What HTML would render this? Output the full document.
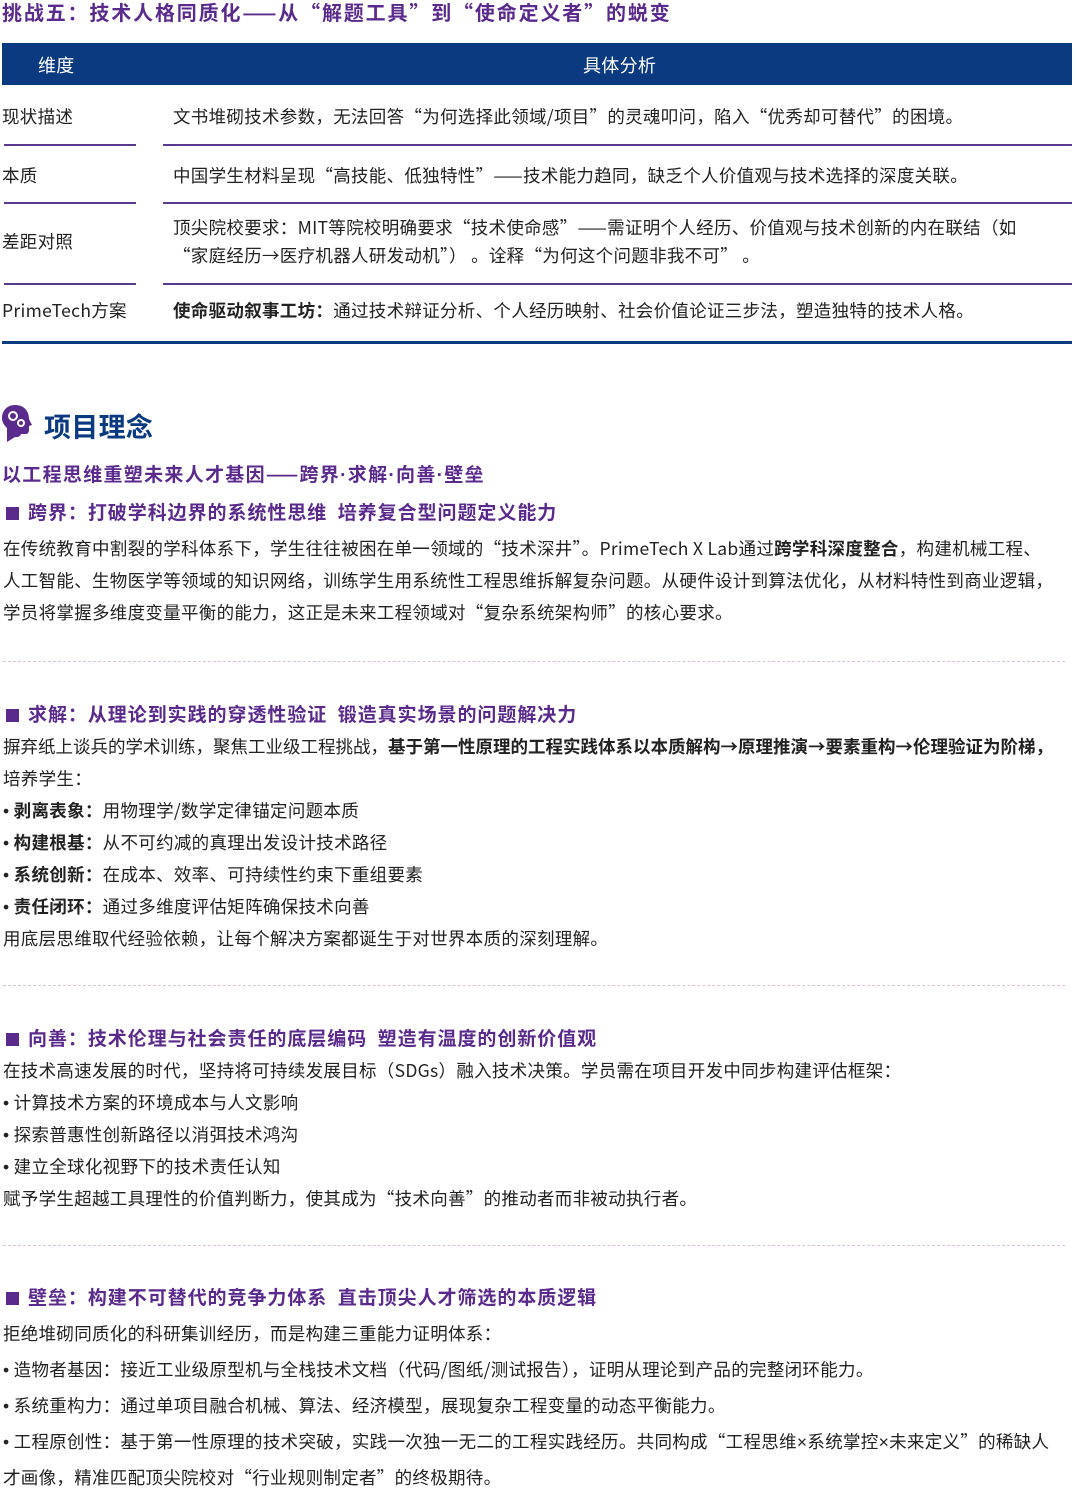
<!DOCTYPE html>
<html><head><meta charset="utf-8">
<style>
*{margin:0;padding:0;box-sizing:border-box}
body{width:1079px;height:1494px;background:#fff;position:relative;overflow:hidden;font-family:"Noto Sans CJK SC","Liberation Sans",sans-serif;color:#222;font-size:17.5px;letter-spacing:0.3px}
.a{position:absolute;white-space:nowrap;line-height:20px}
.h{font-size:19px;color:#5a2a8c;font-weight:bold;letter-spacing:0.95px}
.sq{display:inline-block;width:13px;height:13px;background:#5a2a8c;margin-right:9px;vertical-align:-1px}
.ln{position:absolute;height:2px;background:#5a3a8e}
.dash{position:absolute;left:3px;width:1062px;border-top:1.5px dashed #dcc0dc}
b{font-weight:bold}
i{font-style:normal;font-family:"Liberation Sans",sans-serif}
</style></head><body>
<div class="a h" style="left:2px;top:2px;font-size:20px;letter-spacing:1.85px">挑战五：技术人格同质化——从“解题工具”到“使命定义者”的蜕变</div>
<div style="position:absolute;left:2px;top:43px;width:1070px;height:42px;background:#0b3a80"></div>
<div class="a" style="left:38px;top:55px;color:#fff;font-size:18px">维度</div>
<div class="a" style="left:583px;top:55px;color:#fff;font-size:18px">具体分析</div>

<div class="a" style="left:2px;top:107px">现状描述</div>
<div class="a" style="left:173px;top:107px">文书堆砌技术参数，无法回答“为何选择此领域/项目”的灵魂叩问，陷入“优秀却可替代”的困境。</div>
<div class="ln" style="left:4px;width:132px;top:144px"></div><div class="ln" style="left:163px;width:909px;top:144px"></div>
<div class="a" style="left:2px;top:166px">本质</div>
<div class="a" style="left:173px;top:166px">中国学生材料呈现“高技能、低独特性”——技术能力趋同，缺乏个人价值观与技术选择的深度关联。</div>
<div class="ln" style="left:4px;width:132px;top:202px"></div><div class="ln" style="left:163px;width:909px;top:202px"></div>
<div class="a" style="left:2px;top:232px">差距对照</div>
<div class="a" style="left:173px;top:218px">顶尖院校要求：MIT等院校明确要求“技术使命感”——需证明个人经历、价值观与技术创新的内在联结（如</div>
<div class="a" style="left:173px;top:246px">“家庭经历→医疗机器人研发动机”）&nbsp;。诠释“为何这个问题非我不可”&nbsp;。</div>
<div class="ln" style="left:4px;width:132px;top:283px"></div><div class="ln" style="left:163px;width:909px;top:283px"></div>
<div class="a" style="left:2px;top:301px">PrimeTech方案</div>
<div class="a" style="left:173px;top:301px"><b>使命驱动叙事工坊：</b>通过技术辩证分析、个人经历映射、社会价值论证三步法，塑造独特的技术人格。</div>
<div style="position:absolute;left:2px;top:341px;width:1070px;height:3px;background:#0b3a80"></div>

<svg style="position:absolute;left:1px;top:404px" width="32" height="40" viewBox="0 0 32 40"><path d="M14 1C6 1 1 7 1 14c0 5 3 8 5 10v14l8-5c3 0 5 0 6-3h5c2 0 3-2 3-4v-4l3-1-3-6C28 6 22 1 14 1z" fill="#5a2a8c"/><circle cx="12" cy="12" r="4" fill="none" stroke="#fff" stroke-width="2"/><circle cx="20" cy="19" r="3" fill="none" stroke="#fff" stroke-width="2"/></svg>
<div class="a" style="left:44px;top:410px;font-size:27px;line-height:32px;color:#0b3a80;font-weight:bold">项目理念</div>
<div class="a h" style="left:2px;top:464px;letter-spacing:1.3px">以工程思维重塑未来人才基因——跨界<i>·</i>求解<i>·</i>向善<i>·</i>壁垒</div>

<div class="a h" style="left:6px;top:502px"><span class="sq"></span>跨界：打破学科边界的系统性思维&nbsp; 培养复合型问题定义能力</div>
<div class="a" style="left:3px;top:539px">在传统教育中割裂的学科体系下，学生往往被困在单一领域的“技术深井”。PrimeTech X Lab通过<b>跨学科深度整合</b>，构建机械工程、</div>
<div class="a" style="left:3px;top:571px">人工智能、生物医学等领域的知识网络，训练学生用系统性工程思维拆解复杂问题。从硬件设计到算法优化，从材料特性到商业逻辑，</div>
<div class="a" style="left:3px;top:603px">学员将掌握多维度变量平衡的能力，这正是未来工程领域对“复杂系统架构师”的核心要求。</div>
<div class="dash" style="top:661px"></div>

<div class="a h" style="left:6px;top:704px"><span class="sq"></span>求解：从理论到实践的穿透性验证&nbsp; 锻造真实场景的问题解决力</div>
<div class="a" style="left:3px;top:737px;letter-spacing:0">摒弃纸上谈兵的学术训练，聚焦工业级工程挑战，<b>基于第一性原理的工程实践体系以本质解构→原理推演→要素重构→伦理验证为阶梯，</b></div>
<div class="a" style="left:3px;top:769px">培养学生：</div>
<div class="a" style="left:3px;top:801px"><i>•</i> <b>剥离表象：</b>用物理学/数学定律锚定问题本质</div>
<div class="a" style="left:3px;top:833px"><i>•</i> <b>构建根基：</b>从不可约减的真理出发设计技术路径</div>
<div class="a" style="left:3px;top:865px"><i>•</i> <b>系统创新：</b>在成本、效率、可持续性约束下重组要素</div>
<div class="a" style="left:3px;top:897px"><i>•</i> <b>责任闭环：</b>通过多维度评估矩阵确保技术向善</div>
<div class="a" style="left:3px;top:929px">用底层思维取代经验依赖，让每个解决方案都诞生于对世界本质的深刻理解。</div>
<div class="dash" style="top:985px"></div>

<div class="a h" style="left:6px;top:1028px"><span class="sq"></span>向善：技术伦理与社会责任的底层编码&nbsp; 塑造有温度的创新价值观</div>
<div class="a" style="left:3px;top:1061px">在技术高速发展的时代，坚持将可持续发展目标（SDGs）融入技术决策。学员需在项目开发中同步构建评估框架：</div>
<div class="a" style="left:3px;top:1093px"><i>•</i> 计算技术方案的环境成本与人文影响</div>
<div class="a" style="left:3px;top:1125px"><i>•</i> 探索普惠性创新路径以消弭技术鸿沟</div>
<div class="a" style="left:3px;top:1157px"><i>•</i> 建立全球化视野下的技术责任认知</div>
<div class="a" style="left:3px;top:1189px">赋予学生超越工具理性的价值判断力，使其成为“技术向善”的推动者而非被动执行者。</div>
<div class="dash" style="top:1245px"></div>

<div class="a h" style="left:6px;top:1287px"><span class="sq"></span>壁垒：构建不可替代的竞争力体系&nbsp; 直击顶尖人才筛选的本质逻辑</div>
<div class="a" style="left:3px;top:1324px">拒绝堆砌同质化的科研集训经历，而是构建三重能力证明体系：</div>
<div class="a" style="left:3px;top:1360px"><i>•</i> 造物者基因：接近工业级原型机与全栈技术文档（代码/图纸/测试报告），证明从理论到产品的完整闭环能力。</div>
<div class="a" style="left:3px;top:1396px"><i>•</i> 系统重构力：通过单项目融合机械、算法、经济模型，展现复杂工程变量的动态平衡能力。</div>
<div class="a" style="left:3px;top:1432px"><i>•</i> 工程原创性：基于第一性原理的技术突破，实践一次独一无二的工程实践经历。共同构成“工程思维<i>×</i>系统掌控<i>×</i>未来定义”的稀缺人</div>
<div class="a" style="left:3px;top:1468px">才画像，精准匹配顶尖院校对“行业规则制定者”的终极期待。</div>
</body></html>
